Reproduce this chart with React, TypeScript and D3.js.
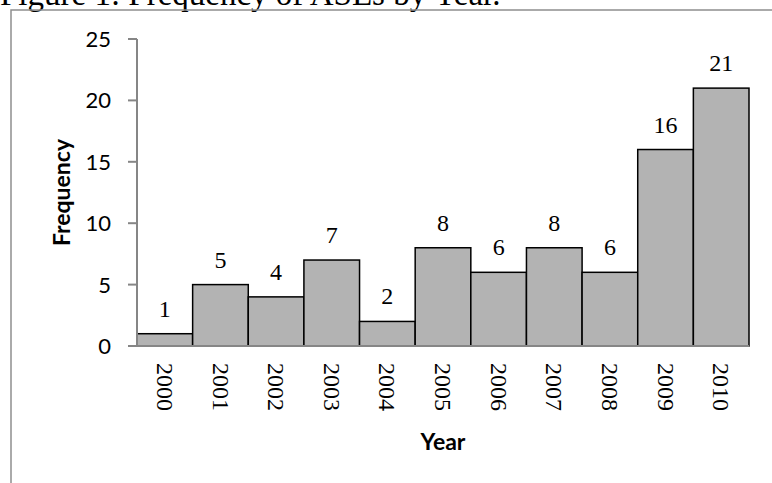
import React from "react";
import * as d3 from "d3";

// Annual counts
const years = ["2000", "2001", "2002", "2003", "2004", "2005", "2006", "2007", "2008", "2009", "2010"];
const counts = [1, 5, 4, 7, 2, 8, 6, 8, 6, 16, 21];
const yTicks = [0, 5, 10, 15, 20, 25];

const title = "Figure 1: Frequency of ASEs by Year.";
const xTitle = "Year";
const yTitle = "Frequency";

const W = 772;
const H = 483;
const plot = { left: 137, right: 749, top: 39, bottom: 346 };

const serif = "'Liberation Serif', 'Times New Roman', serif";
const sans = "Lato, 'Open Sans', sans-serif";
const axisGray = "#868686";

export default function App() {
  const x = d3.scaleBand<string>().domain(years).range([plot.left, plot.right]).padding(0);
  const y = d3.scaleLinear().domain([0, 25]).range([plot.bottom, plot.top]);
  const bw = x.bandwidth();

  return (
    <svg
      width={W}
      height={H}
      viewBox={`0 0 ${W} ${H}`}
      style={{ position: "absolute", left: 0, top: 0, background: "#fff" }}
    >
      {/* caption above the frame */}
      <text x={0} y={5} fontFamily={serif} fontSize={33} fill="#000">
        {title}
      </text>

      {/* chart frame */}
      <rect x={11} y={10} width={900} height={600} fill="none" stroke="#8e8e8e" strokeWidth={1.5} />

      {/* bars */}
      {counts.map((v, i) => (
        <rect
          key={years[i]}
          x={x(years[i])!}
          y={y(v)}
          width={bw}
          height={y(0) - y(v)}
          fill="#b3b3b3"
          stroke="#000"
          strokeWidth={1.5}
        />
      ))}

      {/* value labels */}
      {counts.map((v, i) => (
        <text
          key={"l" + years[i]}
          x={x(years[i])! + bw / 2}
          y={y(v) - 17}
          textAnchor="middle"
          fontFamily={serif}
          fontSize={24}
          fill="#000"
        >
          {v}
        </text>
      ))}

      {/* y axis */}
      <line x1={plot.left} x2={plot.left} y1={plot.top} y2={plot.bottom} stroke={axisGray} strokeWidth={2} />
      {yTicks.map((t) => (
        <g key={"t" + t}>
          <line x1={plot.left - 9} x2={plot.left} y1={y(t)} y2={y(t)} stroke={axisGray} strokeWidth={2} />
          <text
            x={111}
            y={y(t)}
            dy="0.36em"
            textAnchor="end"
            fontFamily={sans}
            fontSize={22}
            fill="#000"
          >
            {t}
          </text>
        </g>
      ))}

      {/* x axis */}
      <line x1={plot.left - 9} x2={plot.right} y1={plot.bottom} y2={plot.bottom} stroke={axisGray} strokeWidth={2} />
      {years.map((yr) => (
        <text
          key={"x" + yr}
          transform={`translate(${x(yr)! + bw / 2},${plot.bottom + 17}) rotate(90)`}
          dy="0.33em"
          fontFamily={serif}
          fontSize={24}
          fill="#000"
        >
          {yr}
        </text>
      ))}

      {/* axis titles */}
      <text
        x={(plot.left + plot.right) / 2}
        y={450}
        textAnchor="middle"
        fontFamily={sans}
        fontWeight="bold"
        fontSize={23}
        fill="#000"
      >
        {xTitle}
      </text>
      <text
        transform={`translate(70,${(plot.top + plot.bottom) / 2}) rotate(-90)`}
        textAnchor="middle"
        fontFamily={sans}
        fontWeight="bold"
        fontSize={23}
        fill="#000"
      >
        {yTitle}
      </text>
    </svg>
  );
}
